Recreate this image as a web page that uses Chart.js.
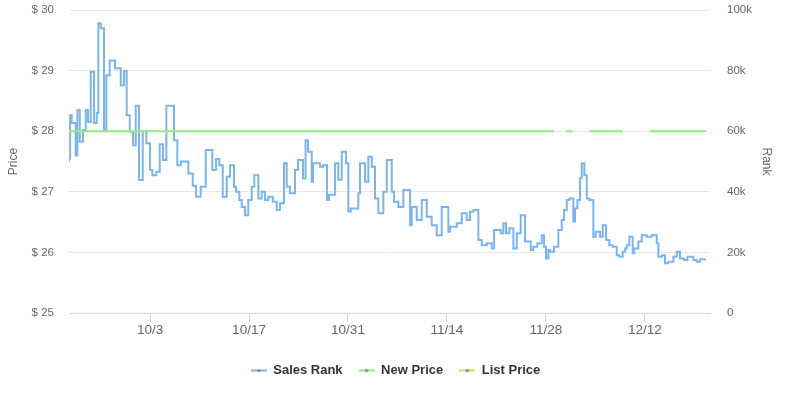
<!DOCTYPE html>
<html><head><meta charset="utf-8">
<script src="https://cdn.jsdelivr.net/npm/chart.js@4"></script>
<style>html,body{margin:0;padding:0;background:#fff}</style>
</head><body>
<canvas id="c" width="791" height="399"></canvas>
<script>
// x values are days counted from 10/3
const xTickDays = [0, 14, 28, 42, 56, 70];
const xTickLabels = ['10/3', '10/17', '10/31', '11/14', '11/28', '12/12'];
const priceTickValues = [25, 26, 27, 28, 29, 30];
const rankTickValues = [0, 20000, 40000, 60000, 80000, 100000];
const rankTickLabels = ['0', '20k', '40k', '60k', '80k', '100k'];

const rankDays = [
  -11.46, -11.3, -11.07, -10.51, -10.28, -9.94, -9.48, -9.09, -8.77, -8.39,
  -7.92, -7.54, -7.31, -6.97, -6.51, -6.18, -5.70, -4.95, -4.14, -3.68,
  -3.30, -2.87, -2.40, -2.02, -1.56, -1.03, -0.52, 0, 0.33, 0.89,
  1.37, 1.84, 2.31, 3.39, 3.86, 4.34, 5.42, 6.04, 6.51, 7.17,
  7.88, 8.81, 9.34, 9.80, 10.28, 10.85, 11.32, 11.88, 12.16, 12.63,
  12.97, 13.44, 13.90, 14.38, 14.75, 15.32, 15.80, 16.27, 16.73, 17.36,
  17.92, 18.39, 18.95, 19.33, 19.80, 20.5, 20.93, 21.64, 22.0, 22.35,
  22.87, 23.06, 24.04, 24.47, 25.04, 25.32, 26.17, 26.63, 27.11, 27.72,
  28.05, 28.39, 29.46, 29.70, 30.41, 30.88, 31.36, 31.82, 32.29, 33.00,
  33.48, 34.19, 34.51, 35.12, 35.83, 36.78, 37.01, 37.72, 38.43, 39.14,
  39.84, 40.55, 41.26, 42.19, 42.43, 43.38, 44.09, 44.79, 45.26, 45.73,
  46.44, 46.92, 47.62, 48.33, 48.66, 49.60, 49.97, 50.35, 50.82, 51.39,
  51.87, 52.43, 53.04, 53.85, 54.21, 54.78, 55.40, 55.73, 56.01, 56.34,
  56.58, 57.14, 57.75, 58.23, 58.56, 58.94, 59.31, 59.87, 60.11, 60.44,
  60.82, 61.06, 61.43, 61.77, 62.14, 62.70, 63.04, 63.65, 64.03, 64.50,
  64.96, 65.44, 66.01, 66.38, 66.86, 67.19, 67.43, 67.79, 68.27, 68.46,
  69.07, 69.55, 70.25, 70.96, 71.67, 71.90, 72.38, 72.84, 73.31, 74.02,
  74.50, 74.96, 75.53, 76.00, 76.85, 77.33, 77.79, 78.17, 78.64
];
const rankValues = [
  49900, 51000, 65300, 62700, 52000, 67000, 56500, 60400, 67000, 63000,
  79600, 62700, 66000, 95600, 94000, 60000, 78500, 83300, 80800, 75200,
  79900, 65300, 59800, 55400, 68400, 43900, 60000, 56000, 47200, 45500,
  46600, 55700, 50500, 68400, 57000, 48800, 50000, 46000, 42000, 38400,
  41700, 53800, 47200, 50800, 48800, 38400, 45000, 48800, 41700, 40000,
  37300, 35000, 32300, 37300, 41700, 45500, 37800, 40000, 37300, 38400,
  36700, 34000, 36200, 49400, 41700, 39500, 47200, 50500, 44400, 57000,
  53200, 43300, 49400, 48300, 48800, 37300, 39000, 49400, 44000, 53200,
  49400, 33500, 34500, 39500, 49400, 43300, 51600, 48300, 37800, 32900,
  40000, 50500, 40000, 36700, 35000, 40600, 29000, 35000, 30700, 37300,
  31800, 29000, 25700, 35000, 26800, 28500, 29600, 32900, 30700, 33400,
  34000, 24100, 22400, 23000, 21300, 27400, 26300, 29600, 26300, 28000,
  21300, 26300, 32300, 23600, 20800, 21900, 23000, 25700, 21900, 18000,
  20800, 20200, 21900, 27400, 30700, 34000, 37300, 37800, 30200, 34500,
  37300, 44500, 49400, 45500, 37800, 37300, 25200, 26800, 25200, 29000,
  24100, 22400, 21900, 19100, 18600, 20200, 21300, 22400, 25200, 19700,
  21300, 23600, 25700, 25200, 25700, 23000, 18600, 19100, 16400, 16900,
  18600, 20200, 18000, 17500, 18600, 17500, 16900, 17700, 17700
];

const newPriceDays = [-11.46, 57.14, 57.2, 58.84, 59.78, 59.85, 62.14, 66.86, 66.9, 70.72, 78.64];
const newPriceValues = [28, 28, null, 28, 28, null, 28, 28, null, 28, 28];

const listPriceDays = [];
const listPriceValues = [];

const seriesNames = ['Sales Rank', 'New Price', 'List Price'];
const seriesColors = ['#7cb5ec', '#90ed7d', '#e4d354'];

function pts(xs, ys) { return xs.map((x, i) => ({ x: x, y: ys[i] })); }

function legendIcon(color) {
  const c = document.createElement('canvas');
  c.width = 16; c.height = 8;
  const g = c.getContext('2d');
  g.strokeStyle = color; g.lineWidth = 2;
  g.beginPath(); g.moveTo(0, 4); g.lineTo(16, 4); g.stroke();
  g.fillStyle = '#777';
  g.beginPath(); g.arc(8, 4, 1.6, 0, Math.PI * 2); g.fill();
  return c;
}
const legendIcons = seriesColors.map(legendIcon);

const FONT = "'Liberation Sans', Arial, sans-serif";

new Chart(document.getElementById('c'), {
  type: 'line',
  data: {
    datasets: [
      { label: seriesNames[0], data: pts(rankDays, rankValues), yAxisID: 'rank',
        borderColor: seriesColors[0], backgroundColor: seriesColors[0], borderWidth: 2,
        stepped: 'after', pointRadius: 0, fill: false, order: 2 },
      { label: seriesNames[1], data: pts(newPriceDays, newPriceValues), yAxisID: 'price',
        borderColor: seriesColors[1], backgroundColor: seriesColors[1], borderWidth: 2,
        pointRadius: 0, fill: false, spanGaps: false, order: 1 },
      { label: seriesNames[2], data: pts(listPriceDays, listPriceValues), yAxisID: 'price',
        borderColor: seriesColors[2], backgroundColor: seriesColors[2], borderWidth: 2,
        pointRadius: 0, fill: false, order: 0 }
    ]
  },
  options: {
    responsive: false,
    animation: false,
    events: [],
    layout: { padding: { top: 10, bottom: 12, left: 0, right: 0 } },
    plugins: {
      tooltip: { enabled: false },
      legend: {
        position: 'bottom',
        labels: {
          usePointStyle: true,
          pointStyleWidth: 16,
          padding: 16,
          color: '#333',
          font: { family: FONT, size: 13, weight: 'bold' },
          sort: (a, b) => a.datasetIndex - b.datasetIndex,
          generateLabels: (chart) => {
            const items = Chart.defaults.plugins.legend.labels.generateLabels(chart);
            items.forEach(it => { it.pointStyle = legendIcons[it.datasetIndex]; });
            return items;
          }
        }
      }
    },
    scales: {
      x: {
        type: 'linear',
        min: -11.46,
        max: 79.2,
        afterBuildTicks: (s) => { s.ticks = xTickDays.map(v => ({ value: v })); },
        afterFit: (s) => { s.height = 35; },
        grid: { display: true, drawOnChartArea: false, drawTicks: true, tickLength: 9, color: '#ccd6eb' },
        border: { display: true, color: '#ccd6eb', width: 1 },
        ticks: {
          autoSkip: false, maxRotation: 0, padding: 0, color: '#666',
          font: { family: FONT, size: 13.5 },
          callback: (v) => { const i = xTickDays.indexOf(v); return i >= 0 ? xTickLabels[i] : ''; }
        }
      },
      price: {
        type: 'linear', position: 'left', min: 25, max: 30,
        afterBuildTicks: (s) => { s.ticks = priceTickValues.map(v => ({ value: v })); },
        afterFit: (s) => { s.width = 69; },
        grid: { color: '#e6e6e6', drawTicks: true, tickLength: 15, tickColor: 'rgba(0,0,0,0)' },
        border: { display: false },
        ticks: { padding: 0, color: '#666', font: { family: FONT, size: 11.5 },
          callback: (v) => '$ ' + v },
        title: { display: true, text: 'Price', color: '#666', font: { family: FONT, size: 12 },
          padding: { top: 6, bottom: 0 } }
      },
      rank: {
        type: 'linear', position: 'right', min: 0, max: 100000,
        afterBuildTicks: (s) => { s.ticks = rankTickValues.map(v => ({ value: v })); },
        afterFit: (s) => { s.width = 81; },
        grid: { display: true, drawOnChartArea: false, drawTicks: true, tickLength: 17, tickColor: 'rgba(0,0,0,0)' },
        border: { display: false },
        ticks: { padding: 0, color: '#666', font: { family: FONT, size: 11.5 },
          callback: (v) => { const i = rankTickValues.indexOf(v); return i >= 0 ? rankTickLabels[i] : ''; } },
        title: { display: true, text: 'Rank', color: '#666', font: { family: FONT, size: 12 },
          padding: { top: 17, bottom: 0 } }
      }
    }
  }
});
</script>
</body></html>
